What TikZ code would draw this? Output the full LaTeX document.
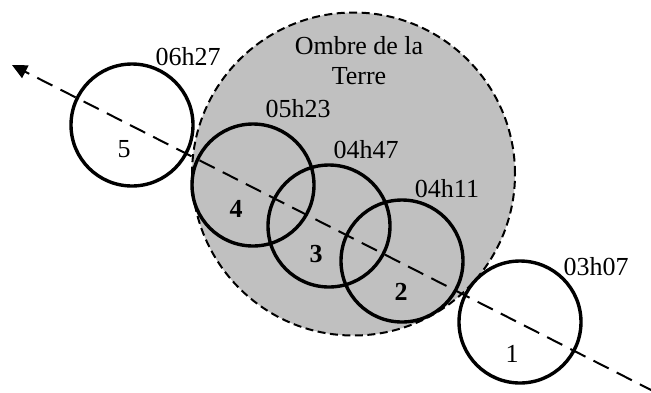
\documentclass[tikz,border=0pt]{standalone}
\usepackage{fontspec}
\setmainfont{Liberation Serif}
\usetikzlibrary{arrows.meta}
\definecolor{shadowgray}{RGB}{192,192,192}
\begin{document}
\begin{tikzpicture}[x=1pt,y=-1pt,
  moon/.style={circle,draw,line width=3.4pt,inner sep=0pt,minimum size=122pt},
  lbl/.style={font=\fontsize{26}{30}\selectfont,inner sep=0pt,anchor=base},
  numlbl/.style={lbl},
  path line/.style={line width=2pt,dash pattern=on 17pt off 9pt,
    -{Triangle[length=15pt,width=14pt]}}]
\useasboundingbox (0,0) rectangle (651,392);

% Earth's shadow
\node[circle,fill=shadowgray,draw,line width=2pt,dash pattern=on 8pt off 4.5pt,
      inner sep=0pt,minimum size=323pt] (shadow) at (353.5,174) {};
\node[lbl,align=center,anchor=center] (shadowtxt) at (359,61) {Ombre de la\\Terre};

% Moon positions
\node[moon] (m1) at (520,322) {};
\node[moon] (m2) at (402,261) {};
\node[moon] (m3) at (329,226) {};
\node[moon] (m4) at (253,185) {};
\node[moon] (m5) at (132,125) {};

% Position numbers
\node[numlbl] (n1) at (512,362) {1};
\node[numlbl] (n2) at (401,300) {\bfseries 2};
\node[numlbl] (n3) at (316,262) {\bfseries 3};
\node[numlbl] (n4) at (236,217) {\bfseries 4};
\node[numlbl] (n5) at (124,157) {5};

% Times
\node[lbl] (t1) at (596,275) {03h07};
\node[lbl] (t2) at (447,197) {04h11};
\node[lbl] (t3) at (366,158) {04h47};
\node[lbl] (t4) at (298,117) {05h23};
\node[lbl] (t5) at (188,65) {06h27};

% Path of the Moon
\coordinate (start) at (655,392);
\coordinate (tip) at (12,65);
\draw[path line] (start) -- (tip);
\end{tikzpicture}
\end{document}
